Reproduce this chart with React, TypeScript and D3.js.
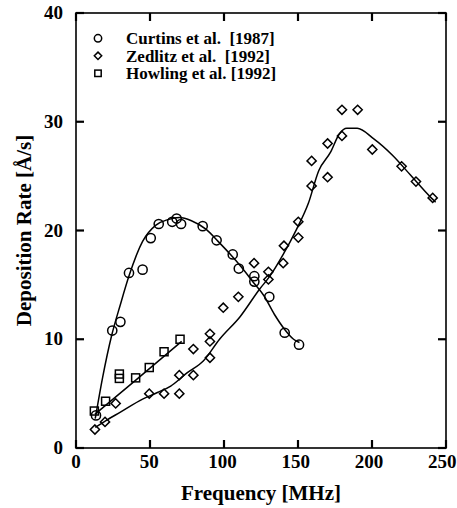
import React from "react";
import * as d3 from "d3";

const xTicks = [0, 50, 100, 150, 200, 250];
const yTicks = [0, 10, 20, 30, 40];

const curtinsX = [13.5, 24.5, 30, 35.8, 45, 50.5, 55.9, 65, 68, 71, 85.6, 95, 105.9, 110, 120.5, 120.5, 130.6, 141, 150.7];
const curtinsY = [3.0, 10.8, 11.6, 16.1, 16.4, 19.3, 20.6, 20.8, 21.1, 20.6, 20.4, 19.1, 17.8, 16.5, 15.8, 15.3, 13.9, 10.6, 9.5];

const zedlitzX = [12.8, 19.6, 26.8, 49.5, 59.5, 69.8, 69.8, 79.3, 79.3, 90.5, 90.5, 90.5, 99.5, 109.7, 120.3, 130, 130, 140, 140.5, 150.2, 150.2, 159.2, 159.2, 170, 170, 179.7, 179.7, 190.3, 200.2, 220, 229.7, 241];
const zedlitzY = [1.7, 2.4, 4.1, 5.0, 5.0, 5.0, 6.7, 6.7, 9.1, 8.3, 9.8, 10.5, 12.9, 13.9, 17.0, 16.2, 15.5, 17.0, 18.6, 19.35, 20.8, 24.1, 26.4, 24.9, 28.0, 28.7, 31.1, 31.1, 27.45, 25.9, 24.5, 23.0];

const howlingX = [12.4, 20, 29.3, 29.3, 40.3, 49.5, 59.5, 70.3];
const howlingY = [3.4, 4.3, 6.8, 6.4, 6.45, 7.4, 8.85, 10.0];

const curtinsFitX = [13, 18, 24, 30, 36, 45, 54, 62, 70, 78, 88, 96, 105, 112, 120, 127, 134, 141, 147, 151];
const curtinsFitY = [2.7, 6.5, 10.3, 13.2, 15.9, 19.0, 20.5, 21.0, 21.2, 20.9, 20.1, 19.0, 17.7, 16.6, 15.2, 14.0, 12.3, 10.9, 10.0, 9.7];

const zedlitzFitX = [13, 20, 30, 45, 55, 64, 75, 86, 97, 111, 124, 131, 140, 149, 157, 164, 172, 178, 183, 190, 201, 214, 226, 240, 243];
const zedlitzFitY = [1.9, 2.5, 3.3, 4.5, 5.1, 5.7, 6.9, 8.0, 10.0, 12.1, 14.6, 15.8, 17.8, 20.1, 22.5, 25.5, 27.2, 28.9, 29.4, 29.4, 28.45, 26.9, 25.1, 23.0, 22.6];

const howlingFitX = [12.8, 40, 71.4];
const howlingFitY = [3.1, 6.2, 9.8];

const legendLabels = ["Curtins et al.  [1987]", "Zedlitz et al.  [1992]", "Howling et al. [1992]"];

const W = 457;
const H = 508;
const left = 76;
const right = 446;
const top = 13;
const bottom = 448;
const FONT = '"Liberation Serif", "DejaVu Serif", "Times New Roman", Times, serif';

function Marker({ type, cx, cy, k = 1 }: { type: string; cx: number; cy: number; k?: number }) {
  if (type === "circle") {
    return <circle cx={cx} cy={cy} r={4.6 * k} fill="none" stroke="black" strokeWidth={1.5} />;
  }
  if (type === "diamond") {
    const s = 4.6 * k;
    return (
      <path
        d={`M${cx},${cy - s}L${cx + s},${cy}L${cx},${cy + s}L${cx - s},${cy}Z`}
        fill="none"
        stroke="black"
        strokeWidth={1.5}
      />
    );
  }
  const s = 4 * k;
  return <rect x={cx - s} y={cy - s} width={2 * s} height={2 * s} fill="none" stroke="black" strokeWidth={1.5} />;
}

export default function App() {
  const x = d3.scaleLinear().domain([0, 250]).range([left, right]);
  const y = d3.scaleLinear().domain([0, 40]).range([bottom, top]);

  const line = d3
    .line<[number, number]>()
    .x((d) => x(d[0]))
    .y((d) => y(d[1]))
    .curve(d3.curveMonotoneX);

  const fits = [
    d3.zip(curtinsFitX, curtinsFitY) as [number, number][],
    d3.zip(zedlitzFitX, zedlitzFitY) as [number, number][],
    d3.zip(howlingFitX, howlingFitY) as [number, number][],
  ];

  const series = [
    { type: "circle", xs: curtinsX, ys: curtinsY },
    { type: "diamond", xs: zedlitzX, ys: zedlitzY },
    { type: "square", xs: howlingX, ys: howlingY },
  ];

  const tickLen = 8;
  const textStyle: React.CSSProperties = { fontFamily: FONT, fontWeight: "bold" };

  return (
    <div style={{ position: "fixed", left: 0, top: 0 }}>
      <svg width={W} height={H} style={{ display: "block", background: "white" }}>
        {fits.map((f, i) => (
          <path key={"fit" + i} d={line(f) || ""} fill="none" stroke="black" strokeWidth={1.5} />
        ))}
        {series.map((s, i) =>
          s.xs.map((xv, j) => <Marker key={`m${i}-${j}`} type={s.type} cx={x(xv)} cy={y(s.ys[j])} />)
        )}
        <rect x={left} y={top} width={right - left} height={bottom - top} fill="none" stroke="black" strokeWidth={1.6} />
        {xTicks.map((t) => (
          <g key={"xt" + t}>
            <line x1={x(t)} x2={x(t)} y1={bottom} y2={bottom - tickLen} stroke="black" strokeWidth={2.2} />
            <line x1={x(t)} x2={x(t)} y1={top} y2={top + tickLen} stroke="black" strokeWidth={2.2} />
            <text x={x(t) - t * 0.015} y={bottom + 20} textAnchor="middle" fontSize={19} style={textStyle}>
              {t}
            </text>
          </g>
        ))}
        {yTicks.map((t) => (
          <g key={"yt" + t}>
            <line x1={left} x2={left + tickLen} y1={y(t)} y2={y(t)} stroke="black" strokeWidth={2.2} />
            <line x1={right} x2={right - tickLen} y1={y(t)} y2={y(t)} stroke="black" strokeWidth={2.2} />
            <text x={left - 13} y={y(t) + 6} textAnchor="end" fontSize={19} style={textStyle}>
              {t}
            </text>
          </g>
        ))}
        <text x={(left + right) / 2} y={500} textAnchor="middle" fontSize={21} style={textStyle}>
          Frequency [MHz]
        </text>
        <text
          transform={`translate(31,${(top + bottom) / 2}) rotate(-90)`}
          textAnchor="middle"
          fontSize={21}
          style={textStyle}
        >
          Deposition Rate [Å/s]
        </text>
        {series.map((s, i) => (
          <g key={"lg" + i}>
            <Marker type={s.type} cx={98} cy={38.3 + i * 17.5} k={0.8} />
            <text x={126} y={38.3 + i * 17.5 + 5.7} fontSize={17} style={{ ...textStyle, whiteSpace: "pre" }}>
              {legendLabels[i]}
            </text>
          </g>
        ))}
      </svg>
    </div>
  );
}
